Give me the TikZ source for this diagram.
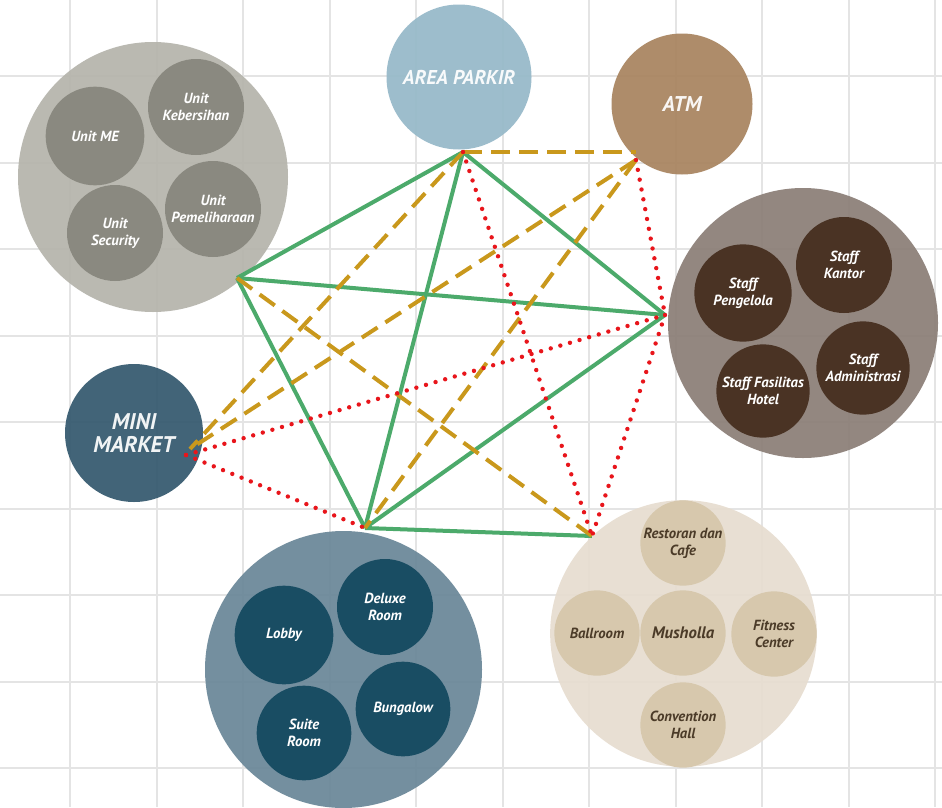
\documentclass[tikz,border=0pt]{standalone}
\usepackage{fontspec}
\setmainfont{PT Sans}
\usetikzlibrary{positioning}
\definecolor{gridgray}{HTML}{E4E4E4}
\definecolor{unitbg}{HTML}{B5B4AC}
\definecolor{unitfg}{HTML}{8A8980}
\definecolor{parkirblue}{HTML}{96B9C9}
\definecolor{atmbrown}{HTML}{A8845F}
\definecolor{staffbg}{HTML}{8B7E77}
\definecolor{stafffg}{HTML}{4A3324}
\definecolor{miniblue}{HTML}{34596E}
\definecolor{kamarbg}{HTML}{6A8798}
\definecolor{kamarfg}{HTML}{194D63}
\definecolor{fasilbg}{HTML}{E7DDD0}
\definecolor{fasilfg}{HTML}{D7C8AD}
\definecolor{fasiltext}{HTML}{4B3B28}
\definecolor{mygreen}{HTML}{4CAA6B}
\definecolor{mygold}{HTML}{C9981C}
\definecolor{myred}{HTML}{E8151B}
\newcommand{\itemfont}{\fontsize{11}{13}\selectfont\bfseries\itshape}
\tikzset{
	gridline/.style={gridgray, line width=1.5pt}
}
\tikzset{
	groupnode/.style={circle, inner sep=0pt, minimum size=#1, fill opacity=0.93},
	itemnode/.style={circle, inner sep=0pt, minimum size=#1, align=center, font=\itemfont}
}
\tikzset{
	unititem/.style={itemnode=72pt, fill=unitfg, text=white},
	staffitem/.style={itemnode=72pt, fill=stafffg, text=white},
	kamaritem/.style={itemnode=72pt, fill=kamarfg, text=white},
	fasilitem/.style={itemnode=64pt, fill=fasilfg, text=fasiltext}
}
\tikzset{
	greenline/.style={mygreen, line width=3pt},
	goldline/.style={mygold, line width=3pt, dash pattern=on 14pt off 7pt},
	redline/.style={myred, line width=3.3pt, line cap=round, dash pattern=on 0pt off 7.5pt}
}

\begin{document}
\begin{tikzpicture}[x=0.75pt, y=-0.75pt]

	\useasboundingbox (0,0) rectangle (942,807);
	\fill[white] (0,0) rectangle (942,807);

	\foreach \gx in {-16.5,70,...,935} {
		\draw[gridline] (\gx,0) -- (\gx,807);
	}
	\foreach \gy in {-10.5,76,...,768} {
		\draw[gridline] (0,\gy) -- (942,\gy);
	}

	\begin{scope}
		\node[groupnode=202.5pt, fill=unitbg] (unit) at (153,177) {};
		\node[unititem, minimum size=74pt] (unitME) at (95,136) {Unit ME};
		\node[unititem] (unitKeb) at (196,107) {Unit\\Kebersihan};
		\node[unititem] (unitPem) at (213,209) {Unit\\Pemeliharaan};
		\node[unititem] (unitSec) at (115,233) {Unit\\Security};
	\end{scope}

	\node[groupnode=108.75pt, fill=parkirblue, text=white, font=\fontsize{15}{18}\selectfont\bfseries\itshape] (parkir) at (459,77) {AREA PARKIR};
	\node[groupnode=105.75pt, fill=atmbrown, text=white, font=\fontsize{16}{19}\selectfont\bfseries\itshape] (atm) at (682,104) {ATM};
	\node[groupnode=103.5pt, fill=miniblue, text=white, align=center, font=\fontsize{17}{17.5}\selectfont\bfseries\itshape] (mini) at (134,433) {MINI\\MARKET};

	\begin{scope}
		\node[groupnode=202.5pt, fill=staffbg] (staff) at (803,323) {};
		\node[staffitem, minimum size=73pt] (staffPeng) at (743,293) {Staff\\Pengelola};
		\node[staffitem] (staffKan) at (844,265) {Staff\\Kantor};
		\node[staffitem, minimum size=70pt] (staffAdm) at (863,368) {Staff\\Administrasi};
		\node[staffitem, minimum size=70pt] (staffFas) at (763,391) {Staff Fasilitas\\Hotel};
	\end{scope}

	\begin{scope}
		\node[groupnode=207.75pt, fill=kamarbg] (kamar) at (343.5,669.5) {};
		\node[kamaritem, minimum size=74pt] (kamarLob) at (284,635) {Lobby};
		\node[kamaritem] (kamarDel) at (385,607) {Deluxe\\Room};
		\node[kamaritem, minimum size=71pt] (kamarBung) at (403,709) {Bungalow};
		\node[kamaritem, minimum size=71pt] (kamarSui) at (304,733) {Suite\\Room};
	\end{scope}

	\begin{scope}
		\node[groupnode=200pt, fill=fasilbg] (fasil) at (683.5,633.5) {};
		\node[fasilitem] (fasilResto) at (683,543) {Restoran dan\\Cafe};
		\node[fasilitem] (fasilBall) at (597,633) {Ballroom};
		\node[fasilitem, font=\fontsize{12.5}{14}\selectfont\bfseries\itshape] (fasilMus) at (683,633) {Musholla};
		\node[fasilitem] (fasilFit) at (774,634) {Fitness\\Center};
		\node[fasilitem] (fasilConv) at (683,725) {Convention\\Hall};
	\end{scope}

	\coordinate (pParkir) at (463,152);
	\coordinate (pAtm) at (636,160);
	\coordinate (pUnit) at (237,278);
	\coordinate (pStaff) at (665,315);
	\coordinate (pMini) at (190,449);
	\coordinate (pMiniR) at (186,455);
	\coordinate (pKamar) at (365,528);
	\coordinate (pFasil) at (592,536);

	\draw[greenline] (pParkir) -- (pUnit);
	\draw[greenline] (pParkir) -- (pKamar);
	\draw[greenline] (pParkir) -- (pStaff);
	\draw[greenline] (pUnit) -- (pStaff);
	\draw[greenline] (pUnit) -- (pKamar);
	\draw[greenline] (pKamar) -- (pStaff);
	\draw[greenline] (pKamar) -- (pFasil);

	\draw[goldline] (pParkir) -- (pParkir -| pAtm);
	\draw[goldline] (pParkir) -- (pMini);
	\draw[goldline] (pAtm) -- (pMini);
	\draw[goldline] (pAtm) -- (pKamar);
	\draw[goldline] (pUnit) -- (pFasil);

	\draw[redline] (pParkir) -- (pFasil);
	\draw[redline] (pAtm) -- (pStaff);
	\draw[redline] (pStaff) -- (pFasil);
	\draw[redline] (pMiniR) -- (pStaff);
	\draw[redline] (pMiniR) -- (pKamar);

\end{tikzpicture}
\end{document}
